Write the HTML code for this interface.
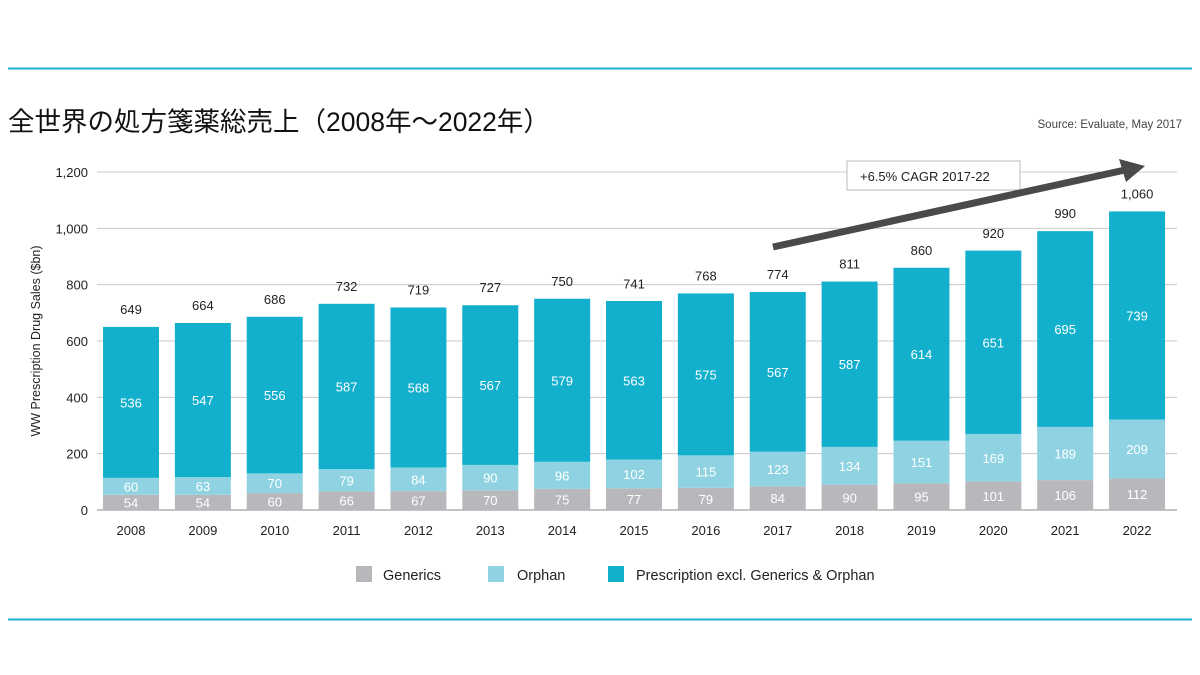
<!DOCTYPE html>
<html><head><meta charset="utf-8"><style>
html,body{margin:0;padding:0;background:#fff;width:1200px;height:675px;overflow:hidden}
svg{display:block;font-family:"Liberation Sans","Noto Sans CJK JP",sans-serif}
</style></head><body>
<svg id="c" width="1200" height="675" viewBox="0 0 1200 675">
<line x1="8" y1="68.5" x2="1192" y2="68.5" stroke="#1ab3cf" stroke-width="2"/>
<line x1="8" y1="619.5" x2="1192" y2="619.5" stroke="#1ab3cf" stroke-width="2"/>
<text x="8" y="131" font-size="26.5" fill="#111">全世界の処方箋薬総売上（2008年～2022年）</text>
<text x="1182" y="128" font-size="11.5" fill="#444" text-anchor="end">Source: Evaluate, May 2017</text>
<text transform="translate(40,341) rotate(-90)" font-size="12.5" fill="#222" text-anchor="middle">WW Prescription Drug Sales ($bn)</text>
<g id="grid"></g><g id="bars"></g>
<g>
<rect x="847" y="161" width="173" height="29" fill="#fff" stroke="#bbb"/>
<text x="860" y="181" font-size="13" fill="#222">+6.5% CAGR 2017-22</text>
<line x1="773" y1="247" x2="1125" y2="170" stroke="#4a4a4c" stroke-width="7"/>
<polygon points="1145,166 1119,159 1126,182" fill="#4a4a4c"/>
</g>
<g>
<rect x="356" y="566" width="16" height="16" fill="#b8b8bc"/>
<text x="383" y="580" font-size="14.5" fill="#222">Generics</text>
<rect x="488" y="566" width="16" height="16" fill="#8fd3e3"/>
<text x="517" y="580" font-size="14.5" fill="#222">Orphan</text>
<rect x="608" y="566" width="16" height="16" fill="#12b0cc"/>
<text x="636" y="580" font-size="14.5" fill="#222">Prescription excl. Generics &amp; Orphan</text>
</g>
</svg>
<script>
const years=["2008","2009","2010","2011","2012","2013","2014","2015","2016","2017","2018","2019","2020","2021","2022"];
const generics=[54,54,60,66,67,70,75,77,79,84,90,95,101,106,112];
const orphan=[60,63,70,79,84,90,96,102,115,123,134,151,169,189,209];
const prescription=[536,547,556,587,568,567,579,563,575,567,587,614,651,695,739];
const totals=[649,664,686,732,719,727,750,741,768,774,811,860,920,990,1060];
const yTicks=[0,200,400,600,800,1000,1200];
const NS="http://www.w3.org/2000/svg";
const y0=510,pxPer=338/1200,x0=131,step=71.86,bw=56;
const Y=v=>y0-v*pxPer, X=i=>x0+i*step;
const fmt=v=>v.toLocaleString("en-US");
function mk(tag,attrs,parent,text){const e=document.createElementNS(NS,tag);for(const k in attrs)e.setAttribute(k,attrs[k]);if(text!==undefined)e.textContent=text;parent.appendChild(e);return e;}
const grid=document.getElementById("grid"),bars=document.getElementById("bars");
yTicks.forEach(t=>{
 const l=mk("line",{x1:97,x2:1177,y1:Y(t),y2:Y(t),stroke:t===0?"#888":"#c8c8c8","stroke-width":1},grid);
 
 
 const tx=mk("text",{x:88,y:Y(t)+5,"font-size":13,"text-anchor":"end",fill:"#222"},grid,fmt(t));
 
 
});
years.forEach((yr,i)=>{
 const cx=X(i),segs=[[generics[i],"#b8b8bc","#fff"],[orphan[i],"#8fd3e3","#fff"],[prescription[i],"#12b0cc","#fff"]];
 let base=0;
 segs.forEach((s,k)=>{
  const r=mk("rect",{x:cx-bw/2,y:Y(base+s[0]),width:bw,height:s[0]*pxPer,fill:s[1]},bars);
  
  
  const my=Y(base+s[0]/2)+5;
  const t=mk("text",{x:cx,y:my,"font-size":13,"text-anchor":"middle",fill:s[2]},bars,fmt(s[0]));
  
  
  base+=s[0];
 });
 const tt=mk("text",{x:cx,y:Y(totals[i])-13,"font-size":13,"text-anchor":"middle",fill:"#222"},bars,fmt(totals[i]));
 
 
 const xl=mk("text",{x:cx,y:535,"font-size":13,"text-anchor":"middle",fill:"#222"},bars,yr);
 
 
});
</script>
</body></html>
